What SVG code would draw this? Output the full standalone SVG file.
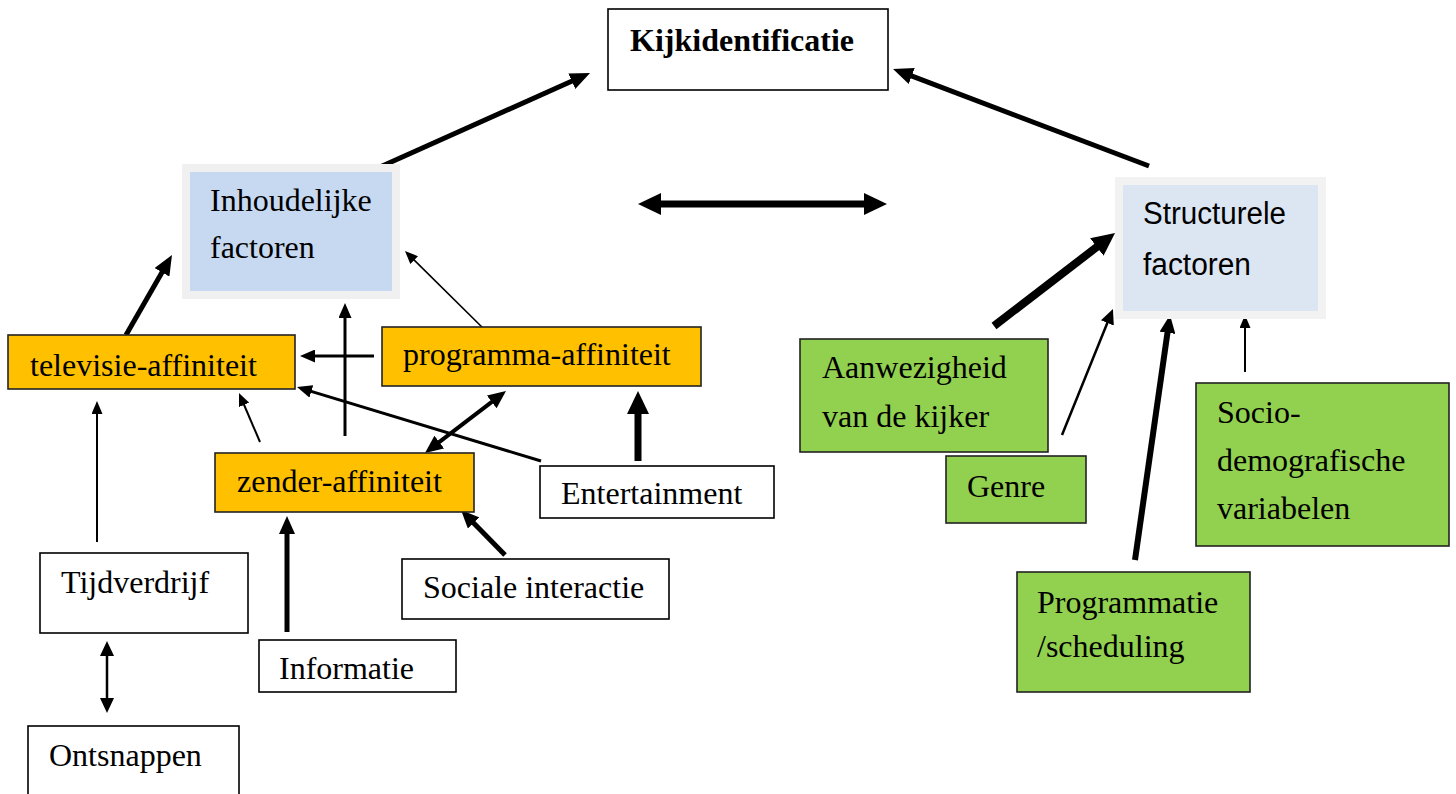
<svg xmlns="http://www.w3.org/2000/svg" width="1456" height="794" viewBox="0 0 1456 794">
<style>
  .t { font-family: "Liberation Serif", "Times New Roman", serif; font-size: 32px; fill: #000; }
  .b { font-weight: bold; }
  .s { font-family: "Liberation Sans", Arial, sans-serif; font-size: 31px; fill: #000; }
  .box { stroke: #000; stroke-width: 1.6; }
  .white { fill: #fff; }
  .orange { fill: #ffc000; stroke: #222; stroke-width: 1.6; }
  .green { fill: #92d050; stroke: #222; stroke-width: 1.6; }
  .c { fill: none; stroke: #000; stroke-linecap: butt; }
</style>
<defs>
  <marker id="a12" markerUnits="userSpaceOnUse" markerWidth="13" markerHeight="11" refX="1" refY="5.5" orient="auto-start-reverse"><path d="M0,0 L13,5.5 L0,11 Z" fill="#000"/></marker>
  <marker id="a14" markerUnits="userSpaceOnUse" markerWidth="15" markerHeight="14" refX="1" refY="7" orient="auto-start-reverse"><path d="M0,0 L15,7 L0,14 Z" fill="#000"/></marker>
  <marker id="a16" markerUnits="userSpaceOnUse" markerWidth="15" markerHeight="13" refX="1" refY="6.5" orient="auto-start-reverse"><path d="M0,0 L15,6.5 L0,13 Z" fill="#000"/></marker>
  <marker id="a18" markerUnits="userSpaceOnUse" markerWidth="18" markerHeight="16" refX="1" refY="8" orient="auto-start-reverse"><path d="M0,0 L18,8 L0,16 Z" fill="#000"/></marker>
  <marker id="a20" markerUnits="userSpaceOnUse" markerWidth="20" markerHeight="17" refX="1" refY="8.5" orient="auto-start-reverse"><path d="M0,0 L20,8.5 L0,17 Z" fill="#000"/></marker>
  <marker id="a24" markerUnits="userSpaceOnUse" markerWidth="23" markerHeight="22" refX="1" refY="11" orient="auto-start-reverse"><path d="M0,0 L23,11 L0,22 Z" fill="#000"/></marker>
</defs>
<rect width="1456" height="794" fill="#fff"/>

<g id="connectors">
  <line class="c" x1="380" y1="167" x2="572.7" y2="80.8" stroke-width="5" marker-end="url(#a20)"/>
  <line class="c" x1="1149" y1="166" x2="910.8" y2="75.7" stroke-width="5" marker-end="url(#a20)"/>
  <line class="c" x1="660" y1="204" x2="865" y2="204" stroke-width="7" marker-start="url(#a24)" marker-end="url(#a24)"/>
  <line class="c" x1="126" y1="335" x2="162.5" y2="271.5" stroke-width="5" marker-end="url(#a20)"/>
  <line class="c" x1="374" y1="356" x2="314" y2="356" stroke-width="3" marker-end="url(#a16)"/>
  <line class="c" x1="345" y1="436" x2="345" y2="317" stroke-width="3" marker-end="url(#a16)"/>
  <line class="c" x1="490" y1="335" x2="413.5" y2="259.4" stroke-width="1.6" marker-end="url(#a12)"/>
  <line class="c" x1="541" y1="461" x2="310.4" y2="391.1" stroke-width="3" marker-end="url(#a16)"/>
  <line class="c" x1="260" y1="442" x2="243.7" y2="404" stroke-width="2" marker-end="url(#a12)"/>
  <line class="c" x1="438.5" y1="442.7" x2="492.5" y2="401.3" stroke-width="4" marker-start="url(#a18)" marker-end="url(#a18)"/>
  <line class="c" x1="638" y1="461" x2="638" y2="413" stroke-width="7" marker-end="url(#a24)"/>
  <line class="c" x1="505" y1="555" x2="472.9" y2="522.2" stroke-width="5" marker-end="url(#a18)"/>
  <line class="c" x1="287" y1="632" x2="287" y2="533" stroke-width="5" marker-end="url(#a18)"/>
  <line class="c" x1="97" y1="542" x2="97" y2="413" stroke-width="2" marker-end="url(#a12)"/>
  <line class="c" x1="107" y1="655" x2="107" y2="699" stroke-width="2.5" marker-start="url(#a14)" marker-end="url(#a14)"/>
  <line class="c" x1="994" y1="326" x2="1097.6" y2="246.4" stroke-width="8" marker-end="url(#a24)"/>
  <line class="c" x1="1062" y1="435" x2="1107.7" y2="322" stroke-width="2.5" marker-end="url(#a14)"/>
  <line class="c" x1="1135" y1="560" x2="1167.6" y2="331.8" stroke-width="6" marker-end="url(#a18)"/>
  <line class="c" x1="1245" y1="372" x2="1245" y2="327" stroke-width="2" marker-end="url(#a12)"/>
</g>

<g id="kijkidentificatie">
  <rect class="box white" x="608" y="9" width="280" height="81"/>
  <text class="t b" x="630" y="51">Kijkidentificatie</text>
</g>

<g id="inhoudelijke-factoren">
  <rect x="186" y="168" width="210" height="127" fill="#c6d9f1" stroke="#f0f0f0" stroke-width="8"/>
  <text class="t" x="210" y="211">Inhoudelijke</text>
  <text class="t" x="210" y="258">factoren</text>
</g>

<g id="structurele-factoren">
  <rect x="1119" y="181" width="203" height="134" fill="#dce6f2" stroke="#f2f2f2" stroke-width="8"/>
  <text class="s" x="1143" y="224" textLength="143" lengthAdjust="spacingAndGlyphs">Structurele</text>
  <text class="s" x="1143" y="275" textLength="108" lengthAdjust="spacingAndGlyphs">factoren</text>
</g>

<g id="televisie-affiniteit">
  <rect class="orange" x="8" y="335" width="287" height="54"/>
  <text class="t" x="30" y="376">televisie-affiniteit</text>
</g>

<g id="programma-affiniteit">
  <rect class="orange" x="382" y="327" width="319" height="59"/>
  <text class="t" x="403" y="365">programma-affiniteit</text>
</g>

<g id="zender-affiniteit">
  <rect class="orange" x="215" y="453" width="259" height="59"/>
  <text class="t" x="237" y="492">zender-affiniteit</text>
</g>

<g id="entertainment">
  <rect class="box white" x="540" y="466" width="234" height="52"/>
  <text class="t" x="561" y="504">Entertainment</text>
</g>

<g id="sociale-interactie">
  <rect class="box white" x="402" y="559" width="267" height="60"/>
  <text class="t" x="423" y="598">Sociale interactie</text>
</g>

<g id="tijdverdrijf">
  <rect class="box white" x="40" y="553" width="208" height="80"/>
  <text class="t" x="61" y="593">Tijdverdrijf</text>
</g>

<g id="informatie">
  <rect class="box white" x="259" y="640" width="197" height="52"/>
  <text class="t" x="279" y="679">Informatie</text>
</g>

<g id="ontsnappen">
  <rect class="box white" x="28" y="726" width="211" height="80"/>
  <text class="t" x="49" y="766">Ontsnappen</text>
</g>

<g id="aanwezigheid">
  <rect class="green" x="800" y="339" width="248" height="113"/>
  <text class="t" x="822" y="378">Aanwezigheid</text>
  <text class="t" x="822" y="427">van de kijker</text>
</g>

<g id="genre">
  <rect class="green" x="946" y="456" width="140" height="67"/>
  <text class="t" x="967" y="497">Genre</text>
</g>

<g id="socio-demografische">
  <rect class="green" x="1196" y="383" width="253" height="163"/>
  <text class="t" x="1217" y="423">Socio-</text>
  <text class="t" x="1217" y="471">demografische</text>
  <text class="t" x="1217" y="519">variabelen</text>
</g>

<g id="programmatie">
  <rect class="green" x="1017" y="572" width="233" height="120"/>
  <text class="t" x="1037" y="613">Programmatie</text>
  <text class="t" x="1037" y="657">/scheduling</text>
</g>
</svg>
